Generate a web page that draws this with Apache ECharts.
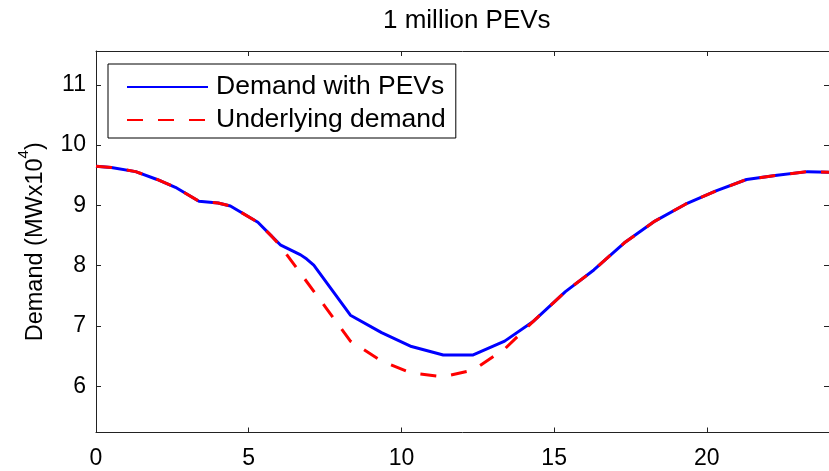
<!DOCTYPE html>
<html>
<head>
<meta charset="utf-8">
<script src="https://cdn.jsdelivr.net/npm/echarts@6/dist/echarts.min.js"></script>
<style>html,body{margin:0;padding:0;background:#fff}#c{width:829px;height:471px}</style>
</head>
<body>
<div id="c"></div>
<script>
// ---- data ----
const titleText = '1 million PEVs';
const seriesNames = ['Demand with PEVs', 'Underlying demand'];
const xTicks = [0, 5, 10, 15, 20];
const yTicks = [6, 7, 8, 9, 10, 11];

const pevHours  = [0, 0.5, 1.3, 2.0, 2.6, 3.37, 4.0, 4.4, 5.3, 5.75, 6.05, 6.3, 6.5, 6.7, 6.9, 7.13, 8.33, 9.35, 10.33, 11.37, 12.35, 13.38, 14.3, 15.37, 16.3, 17.3, 18.3, 19.3, 20.3, 21.3, 22.3, 23.3, 24];
const pevDemand = [9.65, 9.63, 9.56, 9.43, 9.30, 9.07, 9.04, 8.99, 8.72, 8.49, 8.34, 8.28, 8.23, 8.18, 8.11, 8.01, 7.18, 6.89, 6.66, 6.52, 6.52, 6.75, 7.07, 7.57, 7.93, 8.38, 8.74, 9.02, 9.24, 9.43, 9.50, 9.56, 9.55];

const baseHours  = [0, 0.5, 1.3, 2.0, 2.6, 3.37, 4.0, 4.4, 5.3, 5.75, 6.05, 8.33, 9.35, 10.33, 11.37, 12.35, 13.38, 14.3, 15.37, 16.3, 17.3, 18.3, 19.3, 20.3, 21.3, 22.3, 23.3, 24];
const baseDemand = [9.65, 9.63, 9.56, 9.43, 9.30, 9.07, 9.04, 8.99, 8.72, 8.49, 8.32, 6.75, 6.42, 6.22, 6.16, 6.27, 6.62, 7.07, 7.57, 7.93, 8.38, 8.74, 9.02, 9.24, 9.43, 9.50, 9.56, 9.55];

// ---- chart ----
const FONT = 'Liberation Sans, Arial, Helvetica, sans-serif';
const AX = '#222';
const zip = (xs, ys) => xs.map((x, i) => [x, ys[i]]);

const chart = echarts.init(document.getElementById('c'), null, {renderer: 'canvas'});
const tickCommon = {inside: true, length: 5, lineStyle: {color: AX, width: 1}};

chart.setOption({
  animation: false,
  backgroundColor: '#fff',
  title: {
    text: titleText, left: 383, top: 8, padding: 0,
    textStyle: {fontFamily: FONT, fontSize: 26, fontWeight: 'normal', color: '#000'}
  },
  grid: {left: 96, right: -4, top: 51, bottom: 38.5, containLabel: false},
  legend: {
    left: 108, top: 64, orient: 'vertical',
    padding: [9, 10, 4, 18], itemGap: 5,
    itemWidth: 81, itemHeight: 14,
    borderColor: '#000', borderWidth: 1, backgroundColor: '#fff',
    selectedMode: false,
    itemStyle: {opacity: 0, borderWidth: 0},
    textStyle: {fontFamily: FONT, fontSize: 26.5, color: '#000', lineHeight: 28, padding: [0, 0, 0, 3]},
    data: seriesNames
  },
  xAxis: [{
    type: 'value', min: 0, max: 24, position: 'bottom',
    axisLine: {show: true, lineStyle: {color: AX, width: 1}},
    axisTick: Object.assign({customValues: xTicks}, tickCommon),
    axisLabel: {customValues: xTicks, fontFamily: FONT, fontSize: 23, color: '#000', margin: 15},
    splitLine: {show: false}
  }, {
    type: 'value', min: 0, max: 24, position: 'top',
    axisLine: {show: true, onZero: false, lineStyle: {color: AX, width: 1}},
    axisTick: Object.assign({customValues: xTicks}, tickCommon),
    axisLabel: {show: false},
    splitLine: {show: false}
  }],
  yAxis: [{
    type: 'value', min: 5.235, max: 11.56, position: 'left',
    axisLine: {show: true, onZero: false, lineStyle: {color: AX, width: 1}},
    axisTick: Object.assign({customValues: yTicks}, tickCommon),
    axisLabel: {customValues: yTicks, fontFamily: FONT, fontSize: 23, color: '#000', margin: 10},
    splitLine: {show: false},
    name: '{a|Demand (MWx10}{s|4}{a|)}',
    nameLocation: 'middle', nameRotate: 90, nameGap: 48,
    nameTextStyle: {
      fontFamily: FONT, fontSize: 23, color: '#000',
      rich: {
        a: {fontFamily: FONT, fontSize: 23.5, color: '#000', lineHeight: 32, verticalAlign: 'bottom'},
        s: {fontFamily: FONT, fontSize: 15, color: '#000', lineHeight: 32, verticalAlign: 'top'}
      }
    }
  }, {
    type: 'value', min: 5.235, max: 11.56, position: 'right',
    axisLine: {show: true, onZero: false, lineStyle: {color: AX, width: 1}},
    axisTick: Object.assign({customValues: yTicks}, tickCommon),
    axisLabel: {show: false},
    splitLine: {show: false}
  }],
  series: [{
    name: seriesNames[0], type: 'line', xAxisIndex: 0, yAxisIndex: 0,
    data: zip(pevHours, pevDemand), symbol: 'none', showSymbol: false,
    lineStyle: {color: '#0000ff', width: 3, type: 'solid'},
    itemStyle: {color: '#0000ff'}
  }, {
    name: seriesNames[1], type: 'line', xAxisIndex: 0, yAxisIndex: 0,
    data: zip(baseHours, baseDemand), symbol: 'none', showSymbol: false,
    lineStyle: {color: '#ff0000', width: 3, type: [16, 15], cap: 'butt'},
    itemStyle: {color: '#ff0000'}
  }]
});
</script>
</body>
</html>
